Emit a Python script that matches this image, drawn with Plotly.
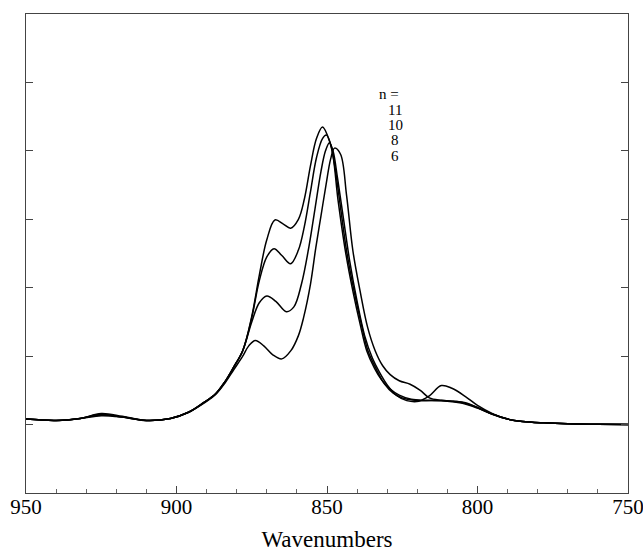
import plotly.graph_objects as go

# Shared baseline region (high wavenumber side)
base_x = [950, 940, 932, 925, 918, 910, 902, 896, 891, 887]

# n = 11
xA = base_x + [884, 881, 878, 875, 872.5, 870, 867.3, 864.5, 862.1, 859.5, 857.5, 855.5, 853.5,
               851.5, 849, 847.5, 845.8, 843.5, 841, 838.5, 836.4, 833.5, 831, 828, 825, 820,
               815, 810, 805, 800, 795, 790, 785, 778, 770, 760, 750]
yA = [0.08, 0.06, 0.09, 0.14, 0.11, 0.06, 0.09, 0.18, 0.32, 0.45,
      0.62, 0.84, 1.08, 1.58, 2.18, 2.7, 2.99, 2.93, 2.87, 3.0, 3.3, 3.78, 4.18,
      4.35, 4.12, 3.8, 3.27, 2.54, 1.95, 1.45, 1.08, 0.8, 0.6, 0.46, 0.39, 0.35,
      0.35, 0.34, 0.31, 0.24, 0.15, 0.08, 0.045, 0.025, 0.012, 0.005, 0.0]

# n = 10
xB = base_x + [884, 881, 878, 875, 872.5, 870, 867.6, 865, 862.1, 859.5, 857.5, 855.5, 853.5,
               851.5, 850.2, 848.5, 846.3, 843.9, 841.4, 838.9, 836.8, 834.2, 832, 829, 826, 822,
               817, 812, 806, 800, 795, 790, 785, 778, 770, 760, 750]
yB = [0.08, 0.06, 0.09, 0.15, 0.11, 0.06, 0.09, 0.18, 0.32, 0.45,
      0.62, 0.84, 1.08, 1.56, 2.1, 2.45, 2.57, 2.47, 2.35, 2.55, 2.9, 3.4, 3.9,
      4.18, 4.23, 4.05, 3.27, 2.54, 1.95, 1.45, 1.08, 0.82, 0.66, 0.52, 0.43, 0.37,
      0.355, 0.35, 0.33, 0.25, 0.15, 0.08, 0.045, 0.025, 0.012, 0.005, 0.0]

# n = 8
xC = base_x + [884, 881, 878, 875, 872.5, 870, 867, 863.5, 861, 858.5, 856, 854, 852,
               850.5, 849.2, 848, 846.5, 844.5, 842.5, 840, 837.5, 835, 832.5, 830, 827, 823.5,
               819.5, 816, 812, 808.5, 804, 800, 795, 790, 785, 778, 770, 760, 750]
yC = [0.08, 0.06, 0.09, 0.16, 0.12, 0.06, 0.09, 0.18, 0.32, 0.45,
      0.62, 0.84, 1.08, 1.5, 1.78, 1.88, 1.8, 1.65, 1.72, 2.05, 2.6, 3.15, 3.7,
      4.0, 4.12, 4.0, 3.6, 3.0, 2.4, 1.8, 1.3, 0.98, 0.76, 0.58, 0.43, 0.35,
      0.34, 0.42, 0.57, 0.53, 0.41, 0.28, 0.16, 0.08, 0.045, 0.025, 0.012, 0.005, 0.0]

# n = 6
xD = base_x + [884, 881, 878, 876, 873.8, 871, 868, 865, 862, 859.5, 857.8, 855.5, 853.7,
               852, 850.3, 848.8, 847.5, 845.5, 843.5, 841.4, 839, 836.5, 834, 831.5, 829, 826,
               822.4, 819, 816, 812, 808, 804, 800, 795, 790, 785, 778, 770, 760, 750]
yD = [0.08, 0.06, 0.09, 0.13, 0.11, 0.06, 0.09, 0.18, 0.31, 0.44,
      0.6, 0.8, 1.0, 1.15, 1.23, 1.15, 1.02, 0.96, 1.08, 1.3, 1.56, 2.05, 2.59,
      3.05, 3.51, 3.88, 4.04, 3.95, 3.35, 2.54, 1.95, 1.42, 1.08, 0.86, 0.73, 0.64,
      0.59, 0.5, 0.39, 0.355, 0.34, 0.32, 0.25, 0.15, 0.08, 0.045, 0.025, 0.012, 0.005, 0.0]

series = [("11", xA, yA), ("10", xB, yB), ("8", xC, yC), ("6", xD, yD)]

x_ticks = [950, 900, 850, 800, 750]
y_ticks = [0, 1, 2, 3, 4, 5]
legend_lines = ["n =", "11", "10", "8", "6"]

fig = go.Figure()
for name, xs, ys in series:
    fig.add_trace(go.Scatter(x=xs, y=ys, mode="lines", name="n = " + name,
                             line=dict(color="black", width=1.5, shape="spline", smoothing=1.0),
                             showlegend=False))

# legend-like text block (paper coords)
ypos = [0.833, 0.800, 0.769, 0.736, 0.704]
xpos = [0.603, 0.613, 0.613, 0.613, 0.613]
for t, xp, yp in zip(legend_lines, xpos, ypos):
    fig.add_annotation(text=t, x=xp, y=yp, xref="paper", yref="paper", showarrow=False,
                       font=dict(size=15, color="black", family="Liberation Serif"),
                       xanchor="center", yanchor="middle")

fig.update_layout(
    width=643, height=552,
    margin=dict(l=26, r=15, t=14, b=59),
    paper_bgcolor="white", plot_bgcolor="white",
    font=dict(family="Liberation Serif", color="black"),
    xaxis=dict(range=[950, 750], tickvals=x_ticks, ticktext=[str(v) for v in x_ticks],
               ticks="inside", ticklen=7, tickcolor="#444", showline=True, linecolor="#444",
               linewidth=1, mirror=True, showgrid=False, zeroline=False,
               automargin=False, ticklabeloverflow="allow", ticklabelstandoff=-5,
               tickfont=dict(size=21, family="Liberation Serif"),
               minor=dict(dtick=10, ticks="inside", ticklen=4, tickcolor="#666", showgrid=False),
               title=dict(text="Wavenumbers", font=dict(size=23, family="Liberation Serif"), standoff=13)),
    yaxis=dict(range=[-1, 6], tickvals=y_ticks, showticklabels=False, automargin=False,
               ticks="inside", ticklen=7, tickcolor="#444", showline=True, linecolor="#444",
               linewidth=1, mirror="ticks", showgrid=False, zeroline=False),
)

# remove the default page margin so the figure fills the 643x552 window exactly
fig.write_html("out.html", config={"displayModeBar": False},
               post_script="document.body.style.margin='0';document.body.style.overflow='hidden';")
